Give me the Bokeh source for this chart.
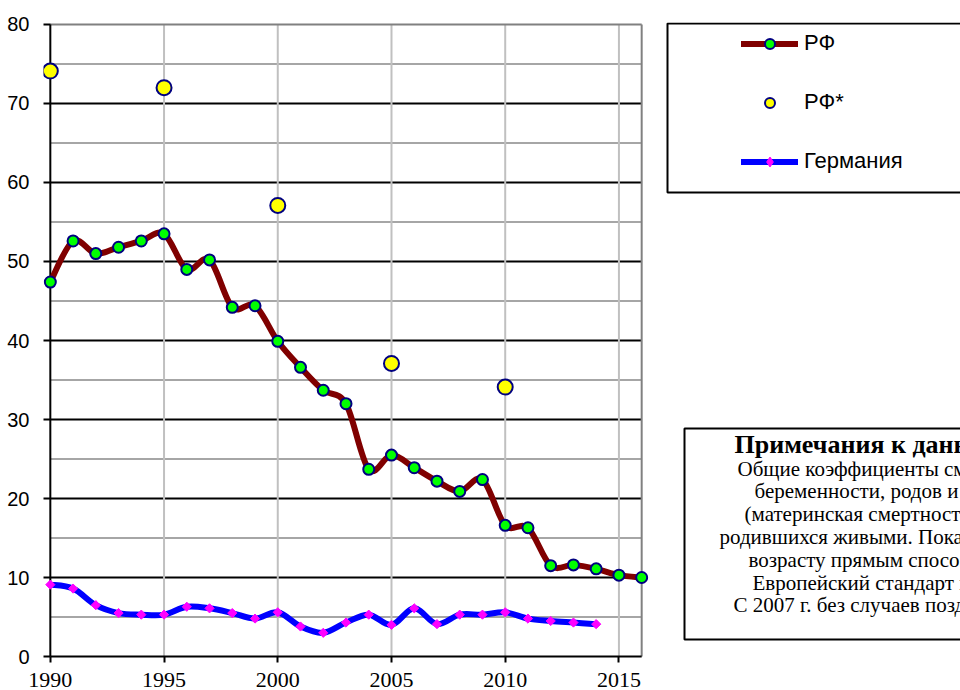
import numpy as np
from bokeh.plotting import figure
from bokeh.models import Range1d, FixedTicker, SingleIntervalTicker, Legend, LegendItem
from bokeh.layouts import row
from bokeh.embed import file_html
from bokeh.resources import INLINE

# ---------------- data ----------------
years_rf = list(range(1990, 2017))
rf = [47.4, 52.6, 51.0, 51.8, 52.6, 53.5, 49.0, 50.2, 44.2, 44.4,
      39.9, 36.6, 33.7, 32.0, 23.7, 25.5, 23.9, 22.2, 20.9, 22.4,
      16.6, 16.3, 11.5, 11.6, 11.1, 10.3, 10.0]
years_rf_star = [1990, 1995, 2000, 2005, 2010]
rf_star = [74.1, 72.0, 57.1, 37.1, 34.1]
years_de = list(range(1990, 2015))
de = [9.1, 8.6, 6.5, 5.5, 5.3, 5.3, 6.3, 6.1, 5.5, 4.8,
      5.6, 3.8, 3.0, 4.3, 5.3, 4.0, 6.1, 4.1, 5.3, 5.3,
      5.6, 4.8, 4.5, 4.3, 4.1]
x_ticks = [1990, 1995, 2000, 2005, 2010, 2015]
series_labels = ["РФ", "РФ*", "Германия"]
note_title = "Примечания к данным:"
note_lines = [
    "Общие коэффициенты смертности от осложнений",
    "беременности, родов и послеродового периода",
    "(материнская смертность) на 100 000",
    "родившихся живыми. Показатели стандартизованы по",
    "возрасту прямым способом",
    "Европейский стандарт населения.",
    "С 2007 г. без случаев поздней материнской смертности.",
]

X_MIN, X_MAX, Y_MIN, Y_MAX = 1990, 2016, 0, 80
H = 690
TOP, BOTTOM = 22, 32   # borders shared by both panels (row aligns their frames)


def smooth_parts(xs, ys):
    """Cubic Bezier pieces (Catmull-Rom style, like a spreadsheet 'smoothed line')."""
    x = np.asarray(xs, float)
    y = np.asarray(ys, float)
    xp = np.concatenate([[x[0]], x, [x[-1]]])
    yp = np.concatenate([[y[0]], y, [y[-1]]])
    n = len(x)
    p0x, p1x, p2x, p3x = xp[0:n - 1], xp[1:n], xp[2:n + 1], xp[3:n + 2]
    p0y, p1y, p2y, p3y = yp[0:n - 1], yp[1:n], yp[2:n + 1], yp[3:n + 2]
    return dict(x0=p1x, y0=p1y, x1=p2x, y1=p2y,
                cx0=p1x + (p2x - p0x) / 6, cy0=p1y + (p2y - p0y) / 6,
                cx1=p2x - (p3x - p1x) / 6, cy1=p2y - (p3y - p1y) / 6)


# ---------------- main chart ----------------
p = figure(width=650, height=H,
           x_range=Range1d(X_MIN - 0.3, X_MAX + 0.3),
           y_range=Range1d(Y_MIN - 0.25, Y_MAX + 0.25),
           output_backend="svg", toolbar_location=None,
           min_border_left=43, min_border_right=2,
           min_border_top=TOP, min_border_bottom=BOTTOM)
p.outline_line_color = None
p.xgrid.visible = False
p.ygrid.visible = False
p.background_fill_color = "white"
p.border_fill_color = "white"

major_y = list(range(Y_MIN + 10, Y_MAX, 10))
minor_y = list(range(Y_MIN + 5, Y_MAX, 10))
vert_x = [t for t in x_ticks if t != X_MIN]

p.segment(x0=[X_MIN] * len(minor_y), y0=minor_y, x1=[X_MAX] * len(minor_y), y1=minor_y,
          line_color="#a6a6a6", line_width=2)
p.segment(x0=[X_MIN] * len(major_y), y0=major_y, x1=[X_MAX] * len(major_y), y1=major_y,
          line_color="black", line_width=2)
p.segment(x0=vert_x, y0=[Y_MIN] * len(vert_x), x1=vert_x, y1=[Y_MAX] * len(vert_x),
          line_color="#c0c0c0", line_width=2)
# plot border: grey top/right, black left/bottom axes
p.segment(x0=[X_MIN, X_MAX], y0=[Y_MAX, Y_MIN], x1=[X_MAX, X_MAX], y1=[Y_MAX, Y_MAX],
          line_color="#808080", line_width=2)
p.segment(x0=[X_MIN, X_MIN], y0=[Y_MIN, Y_MIN], x1=[X_MAX, X_MIN], y1=[Y_MIN, Y_MAX],
          line_color="black", line_width=2)

# series
p.bezier(**smooth_parts(years_de, de), line_color="#0000ff", line_width=6, line_cap="round")
p.scatter(years_de, de, marker="square", angle=np.pi / 4, size=6.5,
          fill_color="#ff00ff", line_color="#ff00ff", line_width=1)

p.bezier(**smooth_parts(years_rf, rf), line_color="#800000", line_width=6, line_cap="round")
p.scatter(years_rf, rf, marker="circle", size=11,
          fill_color="#00ff00", line_color="#000080", line_width=2)

p.scatter(years_rf_star, rf_star, marker="circle", size=15,
          fill_color="#ffff00", line_color="#000080", line_width=2)

# axes
p.yaxis.ticker = SingleIntervalTicker(interval=10)
p.yaxis.axis_line_color = None
p.yaxis.major_tick_in = 7
p.yaxis.major_tick_out = 0
p.yaxis.major_tick_line_width = 2
p.yaxis.major_tick_line_color = "black"
p.yaxis.minor_tick_line_color = None
p.yaxis.major_label_standoff = 10
p.yaxis.major_label_text_font = "Liberation Sans"
p.yaxis.major_label_text_font_size = "20px"
p.yaxis.major_label_text_color = "black"

p.xaxis.ticker = FixedTicker(ticks=x_ticks)
p.xaxis.axis_line_color = None
p.xaxis.major_tick_in = 2
p.xaxis.major_tick_out = 4
p.xaxis.major_tick_line_width = 2
p.xaxis.major_tick_line_color = "black"
p.xaxis.minor_tick_line_color = None
p.xaxis.major_label_standoff = 10
p.xaxis.major_label_text_line_height = 0.8
p.xaxis.major_label_text_font = "Liberation Serif"
p.xaxis.major_label_text_font_size = "22px"
p.xaxis.major_label_text_color = "black"

# ---------------- side panel: legend + notes ----------------
# y data units of this panel equal page pixels (frame spans TOP .. H-BOTTOM)
q = figure(width=310, height=H,
           x_range=Range1d(650, 960), y_range=Range1d(H - BOTTOM, TOP),
           x_axis_type=None, y_axis_type=None,
           output_backend="svg", toolbar_location=None,
           min_border_left=0, min_border_right=0,
           min_border_top=TOP, min_border_bottom=BOTTOM)
q.outline_line_color = None
q.xgrid.visible = False
q.ygrid.visible = False
q.background_fill_color = "white"
q.border_fill_color = "white"

# legend frame
q.quad(left=[667], right=[1000], top=[23], bottom=[192],
       fill_color="white", line_color="black", line_width=2)
# notes frame
q.quad(left=[684], right=[1000], top=[428], bottom=[639],
       fill_color="white", line_color="black", line_width=2)

# legend sample renderers (kept outside the visible range; only their legend glyphs show)
off_x, off_y = [0, 1], [0, 0]
lg_rf_line = q.line(off_x, off_y, line_color="#800000", line_width=6, line_cap="round")
lg_rf_mark = q.scatter(off_x[:1], off_y[:1], marker="circle", size=11,
                       fill_color="#00ff00", line_color="#000080", line_width=2)
lg_star = q.scatter(off_x[:1], off_y[:1], marker="circle", size=11,
                    fill_color="#ffff00", line_color="#000080", line_width=2)
lg_de_line = q.line(off_x, off_y, line_color="#0000ff", line_width=6, line_cap="round")
lg_de_mark = q.scatter(off_x[:1], off_y[:1], marker="diamond", size=10,
                       fill_color="#ff00ff", line_color="#ff00ff")

legend = Legend(items=[
    LegendItem(label=series_labels[0], renderers=[lg_rf_line, lg_rf_mark]),
    LegendItem(label=series_labels[1], renderers=[lg_star]),
    LegendItem(label=series_labels[2], renderers=[lg_de_line, lg_de_mark]),
], location=(91, 484), glyph_width=57, glyph_height=25, label_height=25,
    label_standoff=6, spacing=33, padding=0, margin=0,
    border_line_color=None, background_fill_alpha=0,
    label_text_font="Liberation Sans", label_text_font_size="22px",
    label_text_color="black")
q.add_layout(legend)

q.text(x=[734], y=[444], text=[note_title], text_font="Liberation Serif",
       text_font_size="26px", text_font_style="bold", text_baseline="middle",
       text_align="left", text_color="black")
note_x = [737, 754, 744, 719, 748, 752, 733]
note_y = [468 + 22.8 * i for i in range(len(note_lines))]
q.text(x=note_x, y=note_y, text=note_lines, text_font="Liberation Serif",
       text_font_size="21px", text_baseline="middle", text_align="left",
       text_color="black")

layout = row(p, q)
open("out.html", "w").write(file_html(layout, INLINE))
